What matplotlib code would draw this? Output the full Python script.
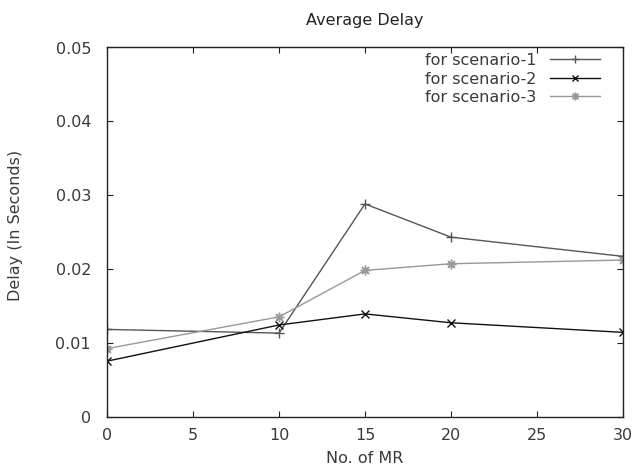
import matplotlib
matplotlib.use("Agg")
import matplotlib.pyplot as plt

x_mr = [0, 10, 15, 20, 30]
scenario_1 = [0.0118, 0.0113, 0.0288, 0.0243, 0.0217]
scenario_2 = [0.0075, 0.0124, 0.0139, 0.0127, 0.0114]
scenario_3 = [0.0092, 0.0135, 0.0198, 0.0207, 0.0212]
labels = ["for scenario-1", "for scenario-2", "for scenario-3"]
xticks = [0, 5, 10, 15, 20, 25, 30]
yticks = [0, 0.01, 0.02, 0.03, 0.04, 0.05]
ytick_labels = ["0", "0.01", "0.02", "0.03", "0.04", "0.05"]

plt.rcParams['font.family'] = ['DejaVu Sans']
W, H = 632, 473
L, R, T, B = 107, 623, 47.5, 416.5
fig = plt.figure(figsize=(W/100, H/100), dpi=100)
ax = fig.add_axes([L/W, 1-B/H, (R-L)/W, (B-T)/H])

ax.plot(x_mr, scenario_1, color='#555555', lw=1.0, marker='+', ms=7, mew=1.0, label=labels[0])
ax.plot(x_mr, scenario_2, color='#111111', lw=1.0, marker='x', ms=6, mew=1.0, label=labels[1])
ax.plot(x_mr, scenario_3, color='#999999', lw=1.0, marker=(8, 2, 0), ms=7, mew=1.0, label=labels[2])

ax.set_xlim(0, 30)
ax.set_ylim(0, 0.05)
ax.set_xticks(xticks)
ax.set_xticklabels([str(t) for t in xticks])
ax.set_yticks(yticks)
ax.set_yticklabels(ytick_labels)
ax.tick_params(direction='in', length=4, top=True, right=True, labelsize=11.5,
               labelcolor='#3a3a3a', color='#222222')
ax.tick_params(axis='y', pad=11.5)
ax.tick_params(axis='x', pad=8.3)
for s in ax.spines.values():
    s.set_linewidth(1.0)
    s.set_color('#222222')

fig.text((L+R)/2/W, 1-20/H, "Average Delay", fontsize=11.5, color='#222222',
         ha='center', va='center')
ax.set_xlabel("No. of MR", fontsize=11.5, color='#3a3a3a', va='center')
ax.xaxis.set_label_coords(0.5, (B-458)/(B-T))
ax.set_ylabel("Delay (In Seconds)", fontsize=11.5, color='#3a3a3a', va='center')
ax.yaxis.set_label_coords((16-L)/(R-L), (B-225)/(B-T))

leg = ax.legend(loc='upper right', bbox_to_anchor=((600-L)/(R-L), (B-53)/(B-T)),
                frameon=False, markerfirst=False, fontsize=11.5, markerscale=0.8,
                handlelength=3.1, labelspacing=0.22, borderaxespad=0.0, borderpad=0.0,
                handletextpad=0.9)
for t in leg.get_texts():
    t.set_color('#3a3a3a')

fig.savefig("out.png", dpi=100)
